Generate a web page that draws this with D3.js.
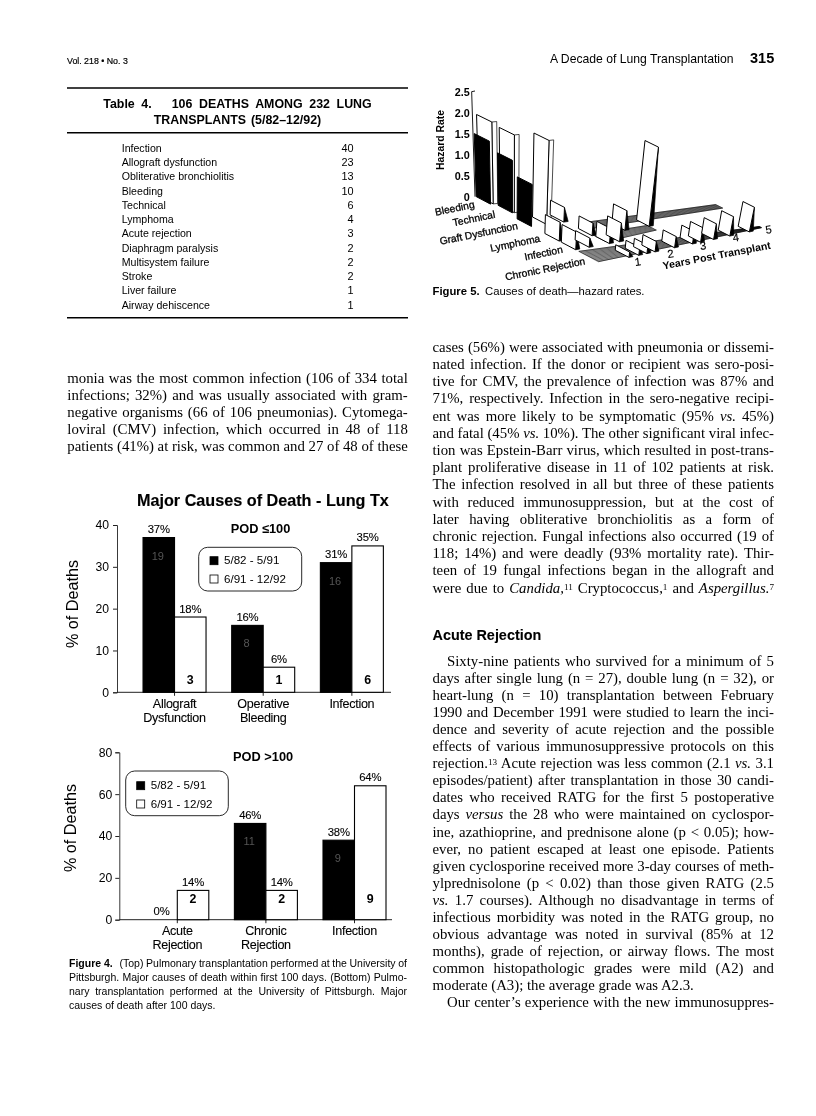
<!DOCTYPE html>
<html><head><meta charset="utf-8">
<script src="https://cdn.jsdelivr.net/npm/d3@7"></script>
<style>
html,body{margin:0;padding:0;background:#fff}
svg{display:block;filter:blur(0.3px)}
.s{font-family:"Liberation Sans",Arial,sans-serif;fill:#000}
.b{font-family:"Liberation Serif","Times New Roman",serif;fill:#000}
</style></head><body><svg id="page" width="816" height="1116"></svg>
<script>
// ---------- Figure 4 data ----------
const seriesNames = ["5/82 - 5/91","6/91 - 12/92"];
const topCategories = ["Allograft Dysfunction","Operative Bleeding","Infection"];
const topEarlyPct = [37,16,31];
const topLatePct = [18,6,35];
const topEarlyCount = [19,8,16];
const topLateCount = [3,1,6];
const botCategories = ["Acute Rejection","Chronic Rejection","Infection"];
const botEarlyPct = [0,46,38];
const botLatePct = [14,14,64];
const botEarlyCount = [null,11,9];
const botLateCount = [2,2,9];
const topTicks = [0,10,20,30,40];
const botTicks = [0,20,40,60,80];

// ---------- Figure 5 data (hazard rates): [year position, rate] ----------
const hazardCauses = ["Bleeding","Technical","Graft Dysfunction","Lymphoma","Infection","Chronic Rejection"];
const hazardTicks = [0,0.5,1,1.5,2,2.5];
const hazardYears = [1,2,3,4,5];
const bleedingBars = [[0.1,1.95]];
const bleedingDark = [[0.03,1.5]];
const technicalBars = [[0.2,1.85]];
const technicalDark = [[0.15,1.25]];
const graftBars = [[0.42,2.0],[0.9,0.35]];
const graftDark = [[0,1.0]];
const lymphomaBars = [[0,0.45],[0.95,0.3],[1.9,0.47],[2.6,1.9]];
const infectionBars = [[0,0.42],[0.4,0.22],[1.0,0.36],[1.3,0.45]];
const chronicBars = [[0.85,0.13],[1.15,0.19],[1.4,0.2],[1.65,0.25],[2.25,0.27],[2.8,0.3],[3.05,0.35],[3.45,0.38],[3.95,0.47],[4.55,0.6]];

// ---------- Table data ----------
const tableLabels = ["Infection","Allograft dysfunction","Obliterative bronchiolitis","Bleeding","Technical","Lymphoma","Acute rejection","Diaphragm paralysis","Multisystem failure","Stroke","Liver failure","Airway dehiscence"];
const tableValues = [40,23,13,10,6,4,3,2,2,2,1,1];

// ---------- Body text ----------
const leftBody = [
"monia was the most common infection (106 of 334 total",
"infections; 32%) and was usually associated with gram-",
"negative organisms (66 of 106 pneumonias). Cytomega-",
"loviral (CMV) infection, which occurred in 48 of 118",
"patients (41%) at risk, was common and 27 of 48 of these"];
const rightBody1 = [
"cases (56%) were associated with pneumonia or dissemi-",
"nated infection. If the donor or recipient was sero-posi-",
"tive for CMV, the prevalence of infection was 87% and",
"71%, respectively. Infection in the sero-negative recipi-",
"ent was more likely to be symptomatic (95% *vs.* 45%)",
"and fatal (45% *vs.* 10%). The other significant viral infec-",
"tion was Epstein-Barr virus, which resulted in post-trans-",
"plant proliferative disease in 11 of 102 patients at risk.",
"The infection resolved in all but three of these patients",
"with reduced immunosuppression, but at the cost of",
"later having obliterative bronchiolitis as a form of",
"chronic rejection. Fungal infections also occurred (19 of",
"118; 14%) and were deadly (93% mortality rate). Thir-",
"teen of 19 fungal infections began in the allograft and",
"were due to *Candida,*^11^ Cryptococcus,^1^ and *Aspergillus.*^7^"];
const rightBody2 = [
"days after single lung (n = 27), double lung (n = 32), or",
"heart-lung (n = 10) transplantation between February",
"1990 and December 1991 were studied to learn the inci-",
"dence and severity of acute rejection and the possible",
"effects of various immunosuppressive protocols on this",
"rejection.^13^ Acute rejection was less common (2.1 *vs.* 3.1",
"episodes/patient) after transplantation in those 30 candi-",
"dates who received RATG for the first 5 postoperative",
"days *versus* the 28 who were maintained on cyclospor-",
"ine, azathioprine, and prednisone alone (p < 0.05); how-",
"ever, no patient escaped at least one episode. Patients",
"given cyclosporine received more 3-day courses of meth-",
"ylprednisolone (p < 0.02) than those given RATG (2.5",
"*vs.* 1.7 courses). Although no disadvantage in terms of",
"infectious morbidity was noted in the RATG group, no",
"obvious advantage was noted in survival (85% at 12",
"months), grade of rejection, or airway flows. The most",
"common histopathologic grades were mild (A2) and"];

const svg = d3.select("#page");

function sans(g,x,y,t,size,opts={}){
  const e=g.append("text").attr("class","s").attr("x",x).attr("y",y).attr("font-size",size).text(t);
  if(opts.bold)e.attr("font-weight","bold");
  if(opts.anchor)e.attr("text-anchor",opts.anchor);
  if(opts.fill)e.style("fill",opts.fill);
  if(opts.rot!==undefined)e.attr("transform",`rotate(${opts.rot} ${x} ${y})`);
  if(opts.stroke)e.attr("stroke",opts.fill||"#000").attr("stroke-width",opts.stroke);
  return e;
}
function serifLine(x,y,raw,width,size){
  const e=svg.append("text").attr("class","b").attr("x",x).attr("y",y).attr("font-size",size).attr("xml:space","preserve");
  raw.split(/(\*[^*]+\*|\^[^^]+\^)/).filter(d=>d.length).forEach(p=>{
    if(p[0]==="*") e.append("tspan").attr("font-style","italic").text(p.slice(1,-1));
    else if(p[0]==="^") e.append("tspan").attr("font-size",size*0.62).attr("baseline-shift","38%").text(p.slice(1,-1));
    else e.append("tspan").text(p);
  });
  if(width){
    const len=e.node().getComputedTextLength();
    const spaces=(raw.match(/ /g)||[]).length;
    if(spaces) e.attr("word-spacing",(width-len)/spaces);
  }
  return e;
}

// ---------- Running heads ----------
sans(svg,67,64,"Vol. 218 • No. 3",8.8,{stroke:0.2});
sans(svg,550,62.5,"A Decade of Lung Transplantation",12.2,{});
sans(svg,750,62.5,"315",14.5,{bold:true});

// ---------- Table ----------
[88,132.7,317.7].forEach(y=>svg.append("line").attr("x1",67).attr("x2",408).attr("y1",y).attr("y2",y).attr("stroke","#000").attr("stroke-width",1.4));
sans(svg,237.5,108,"Table 4.   106 DEATHS AMONG 232 LUNG",12.4,{bold:true,anchor:"middle"}).attr("word-spacing",3.2).attr("xml:space","preserve");
sans(svg,237.5,124,"TRANSPLANTS (5/82–12/92)",12.4,{bold:true,anchor:"middle"}).attr("word-spacing",1.5);
const tableY=d3.scalePoint().domain(tableLabels).range([151.7,308.7]);
tableLabels.forEach((l,i)=>{
  sans(svg,121.7,tableY(l),l,10.6,{});
  sans(svg,353.5,tableY(l),tableValues[i],10.9,{anchor:"end"});
});

// ---------- Figure 4 panels ----------
function barPanel(cfg){
  const g=svg.append("g");
  const y=d3.scaleLinear().domain(cfg.yDomain).range(cfg.yRange);
  const x=d3.scaleBand().domain(cfg.cats).range(cfg.xRange);
  const inner=d3.scaleBand().domain(seriesNames).range([0,63]);
  const off=(x.bandwidth()-63)/2;
  const ax=g.append("g").attr("transform",`translate(${cfg.axisX},0)`)
    .call(d3.axisLeft(y).tickValues(cfg.ticks).tickSize(4).tickPadding(cfg.tickPad));
  ax.selectAll("text").attr("class","s").attr("font-size",12.2).attr("font-family",null);
  ax.selectAll("line").attr("stroke","#222");
  ax.select(".domain").attr("stroke","#222").attr("stroke-width",0.9);
  g.append("line").attr("x1",cfg.axisX).attr("x2",cfg.axisEnd).attr("y1",y(0)).attr("y2",y(0)).attr("stroke","#222").attr("stroke-width",1);
  cfg.cats.forEach((c,i)=>{
    const cx=x(c)+x.bandwidth()/2;
    g.append("line").attr("x1",cx).attr("x2",cx).attr("y1",y(0)).attr("y2",y(0)+3.5).attr("stroke","#222");
    c.split(" ").forEach((w,k)=>sans(g,cx,cfg.catY+k*14,w,12.6,{anchor:"middle",stroke:0.1}).attr("letter-spacing",-0.3));
  });
  const rows=cfg.cats.flatMap((c,i)=>[
    {c,s:seriesNames[0],v:cfg.early[i],n:cfg.earlyN[i],dark:true},
    {c,s:seriesNames[1],v:cfg.late[i],n:cfg.lateN[i],dark:false}]);
  g.selectAll("rect.bar").data(rows).join("rect").attr("class","bar")
    .attr("x",d=>x(d.c)+off+inner(d.s)).attr("width",inner.bandwidth())
    .attr("y",d=>y(d.v)).attr("height",d=>y(0)-y(d.v))
    .attr("fill",d=>d.dark?"#000":"#fff").attr("stroke","#000").attr("stroke-width",d=>d.v?1.1:0);
  rows.forEach(d=>{
    const cx=x(d.c)+off+inner(d.s)+inner.bandwidth()/2;
    sans(g,cx,y(d.v)-4.5,d.v+"%",11.3,{anchor:"middle",stroke:0.12}).attr("letter-spacing",-0.2);
    if(d.n!==null){
      if(d.dark) sans(g,cx-1,y(d.v)+cfg.darkDy,d.n,11,{anchor:"middle",fill:"#555"});
      else sans(g,cx,cfg.countY,d.n,12.4,{anchor:"middle",bold:true});
    }
  });
  sans(g,cfg.podX,cfg.podY,cfg.pod,12.8,{bold:true});
  sans(g,cfg.titleX,cfg.titleY,"% of Deaths",16.2,{anchor:"middle",rot:-90});
  const L=cfg.legend;
  g.append("rect").attr("x",L.x).attr("y",L.y).attr("width",L.w).attr("height",L.h).attr("rx",9)
    .attr("fill","#fff").attr("stroke","#111").attr("stroke-width",0.9);
  seriesNames.forEach((s,i)=>{
    g.append("rect").attr("x",L.sx).attr("y",L.sy[i]).attr("width",8).attr("height",8)
      .attr("fill",i?"#fff":"#000").attr("stroke","#000").attr("stroke-width",0.8);
    sans(g,L.sx+14,L.sy[i]+7.7,s,11.6,{});
  });
}
sans(svg,137,505.5,"Major Causes of Death - Lung Tx",16.2,{bold:true,stroke:0.15});
barPanel({cats:topCategories,early:topEarlyPct,late:topLatePct,earlyN:topEarlyCount,lateN:topLateCount,
  ticks:topTicks,yDomain:[0,40],yRange:[692.3,525],xRange:[130.2,396.2],axisX:117,axisEnd:391,tickPad:4,
  catY:708,countY:684,darkDy:22,pod:"POD ≤100",podX:230.7,podY:533,titleX:78,titleY:604,
  legend:{x:198.7,y:547.3,w:103,h:43.7,sx:210,sy:[556.7,575]}});
barPanel({cats:botCategories,early:botEarlyPct,late:botLatePct,earlyN:botEarlyCount,lateN:botLateCount,
  ticks:botTicks,yDomain:[0,80],yRange:[919.7,752.3],xRange:[133,398.8],axisX:119.3,axisEnd:392,tickPad:3,
  catY:935,countY:903.3,darkDy:22,pod:"POD >100",podX:233,podY:761,titleX:76,titleY:828,
  legend:{x:125.7,y:771,w:102.6,h:44.7,sx:136.7,sy:[781.7,800]}});

// ---------- Figure 5: perspective bars ----------
const hz=svg.append("g");
const sx=z=>425+z/3, sy=z=>75+z/3;
const rowX=d3.scaleLinear().domain([0,6]).range([sx(150),sx(520)]);
const rowY=d3.scaleLinear().domain([0,6]).range([sy(365),sy(560)]);
const spanX=d3.scaleLinear().domain([0,6]).range([116/3,98/3]);
const spanY=d3.scaleLinear().domain([0,6]).range([-9.6/3,-20.4/3]);
const ground=(u,v)=>[rowX(v)+u*spanX(v),rowY(v)+u*spanY(v)];
const hazardY=d3.scaleLinear().domain([0,2.5]).range([sy(365),sy(50)]);
const vp=[sx(263),sy(3945)];
const rise=(p,h)=>{const dx=p[0]-vp[0],dy=p[1]-vp[1],L=Math.hypot(dx,dy),d=hazardY(0)-hazardY(h);return [p[0]+dx/L*d,p[1]+dy/L*d];};
const rowDepth=d3.scaleOrdinal().domain(hazardCauses).range([0,0.85,2.05,3.4,4.2,5.45]);
const barDepth=0.7, sideU=0.12;

const hatch=(u0,u1,va0,va1,vb0,vb1,n)=>{
  const lerp=d3.interpolateNumber;
  const top=[ground(u0,va0),ground(u1,vb0),ground(u1,vb1),ground(u0,va1)];
  hz.append("polygon").attr("points",top.join(" ")).attr("fill","#bbb").attr("stroke","#000").attr("stroke-width",0.5);
  d3.range(n+1).map(i=>i/n).forEach(t=>{
    const a=ground(u0,lerp(va0,va1)(t)),b=ground(u1,lerp(vb0,vb1)(t));
    hz.append("line").attr("x1",a[0]).attr("y1",a[1]).attr("x2",b[0]).attr("y2",b[1]).attr("stroke","#000").attr("stroke-width",0.45);
  });
};
hatch(1.2,5,3.0,3.55,3.05,3.5,7);
hatch(1.0,2.6,4.0,4.7,4.0,4.5,7);
hatch(0,5,5.05,6,5.85,6,10);

const hazardMarks=[];
const addBars=(cause,bars,dark)=>bars.forEach(([u,h])=>hazardMarks.push({cause,u,h,dark}));
addBars("Bleeding",bleedingBars,false);addBars("Bleeding",bleedingDark,true);
addBars("Technical",technicalBars,false);addBars("Technical",technicalDark,true);
addBars("Graft Dysfunction",graftBars,false);addBars("Graft Dysfunction",graftDark,true);
addBars("Lymphoma",lymphomaBars,false);
addBars("Infection",infectionBars,false);
addBars("Chronic Rejection",chronicBars,false);
hazardMarks.sort((a,b)=>{
  const sa=hazardCauses.indexOf(a.cause),sb=hazardCauses.indexOf(b.cause);
  return sa-sb||(a.dark-b.dark)||a.u-b.u;
});
hazardMarks.forEach(m=>{
  const v=rowDepth(m.cause), row=hazardCauses.indexOf(m.cause);
  const a=ground(m.u,v), b=ground(m.u,v+barDepth), c=ground(m.u+sideU,v+barDepth);
  const ta=rise(a,m.h), tb=rise(b,m.h);
  const early=row<3&&m.h>1;
  if(!m.dark){
    const side=early?[tb,rise(c,m.h),c,b]:[tb,c,b];
    hz.append("polygon").attr("points",side.join(" ")).attr("fill",early?"#fff":"#000").attr("stroke","#000").attr("stroke-width",0.7);
  }
  hz.append("polygon").attr("points",[a,b,tb,ta].join(" ")).attr("fill",m.dark?"#000":"#fff").attr("stroke","#000").attr("stroke-width",1);
});

const hAx=hz.append("g").attr("transform",`translate(${sx(143)},0)`)
  .call(d3.axisLeft(hazardY).tickValues(hazardTicks).tickSize(0).tickPadding(3).tickFormat(d=>d===0?"0":d3.format(".1f")(d)));
hAx.select(".domain").remove();
hAx.selectAll("text").attr("class","s").attr("font-family",null).attr("font-size",10.8).attr("font-weight","bold");
hz.append("path").attr("d",d3.line()([[sx(150),sy(365)],[sx(140),sy(50)],[sx(150),sy(48)]])).attr("fill","none").attr("stroke","#000").attr("stroke-width",0.9);
sans(hz,sx(58),sy(195),"Hazard Rate",10.4,{bold:true,anchor:"middle",rot:-90});
const causeEnds=[[150,398],[212,428],[280,462],[347,500],[415,533],[482,568]];
hazardCauses.forEach((c,i)=>sans(hz,sx(causeEnds[i][0]),sy(causeEnds[i][1]),c,10.3,{anchor:"end",rot:-11.5,stroke:0.3}));
const yearPos=d3.scalePoint().domain(hazardYears).range([0,1]);
hazardYears.forEach(yr=>{
  const t=yearPos(yr);
  sans(hz,sx(640+t*392),sy(572-t*97),yr,11.2,{anchor:"middle",rot:-8,stroke:0.15});
});
sans(hz,sx(877),sy(552),"Years Post Transplant",10.5,{bold:true,anchor:"middle",rot:-11});

// ---------- Captions ----------
sans(svg,432.5,295,"Figure 5.",11.3,{bold:true});
sans(svg,485,295,"Causes of death—hazard rates.",11.3,{});
const cap=[["(Top) Pulmonary transplantation performed at the University of",119.5],
["Pittsburgh. Major causes of death within first 100 days. (Bottom) Pulmo-",69],
["nary transplantation performed at the University of Pittsburgh. Major",69],
["causes of death after 100 days.",69]];
sans(svg,69,966.7,"Figure 4.",10.5,{bold:true});
cap.forEach((c,i)=>{
  const e=sans(svg,c[1],966.7+i*14.1,c[0],10.5,{});
  if(i<3){const len=e.node().getComputedTextLength(),sp=(c[0].match(/ /g)||[]).length;e.attr("word-spacing",(407-c[1]-len)/sp);}
});

// ---------- Body text ----------
const fs=14.8, lh=17.05;
leftBody.forEach((l,i)=>serifLine(67.3,382.7+i*lh,l,340.5,fs));
rightBody1.forEach((l,i)=>serifLine(432.5,351.7+i*17.2,l,341.5,fs));
sans(svg,432.5,640,"Acute Rejection",14.4,{bold:true,stroke:0.1});
serifLine(447,666,"Sixty-nine patients who survived for a minimum of 5",327,fs);
rightBody2.forEach((l,i)=>serifLine(432.5,666+(i+1)*lh,l,341.5,fs));
serifLine(432.5,666+19*lh,"moderate (A3); the average grade was A2.3.",null,fs);
serifLine(447,666+20*lh,"Our center’s experience with the new immunosuppres-",327,fs);
</script></body></html>
